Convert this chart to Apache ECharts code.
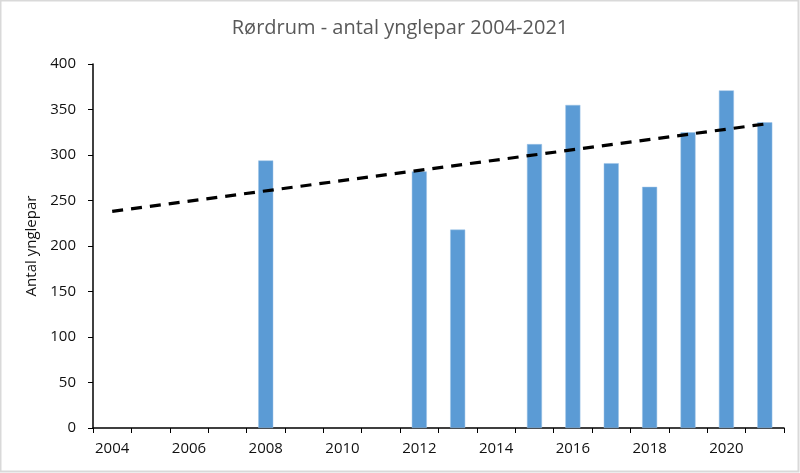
<!DOCTYPE html>
<html><head><meta charset="utf-8">
<script src="https://cdn.jsdelivr.net/npm/echarts@6/dist/echarts.min.js"></script>
<style>html,body{margin:0;padding:0;background:#fff}#c{width:800px;height:473px}</style>
</head><body><div id="c"></div>
<script>
const years = ['2004','2005','2006','2007','2008','2009','2010','2011','2012','2013','2014','2015','2016','2017','2018','2019','2020','2021'];
const pairs = [null,null,null,null,294,null,null,null,282,218,null,312,355,291,265,325,371,336];
const trendYears = ['2004','2021'];
const trendValues = [238,334];
const yTicks = [0,50,100,150,200,250,300,350,400];

const trendData = years.map(y => { const i = trendYears.indexOf(y); return i >= 0 ? trendValues[i] : null; });
const font = 'Open Sans';
const chart = echarts.init(document.getElementById('c'));
chart.setOption({
  animation: false,
  title: { text: 'Rørdrum - antal ynglepar 2004-2021', left: 'center', top: 13,
    textStyle: { fontFamily: font, fontSize: 20, fontWeight: 'normal', color: '#595959' } },
  graphic: [{ type: 'rect', shape: { x: 0.5, y: 0.5, width: 798, height: 471 },
    style: { fill: 'none', stroke: '#d9d9d9', lineWidth: 2 }, silent: true }],
  grid: { left: 93, right: 16, top: 64, bottom: 45 },
  xAxis: { type: 'category', data: years, boundaryGap: true,
    axisLine: { lineStyle: { color: '#000', width: 1.5 } },
    axisTick: { show: true, alignWithLabel: false, interval: 0, length: 5, lineStyle: { color: '#000' } },
    axisLabel: { interval: 1, color: '#111', fontFamily: font, fontSize: 15, margin: 13 } },
  yAxis: { type: 'value', min: yTicks[0], max: yTicks[yTicks.length-1], interval: 50,
    name: 'Antal ynglepar', nameLocation: 'middle', nameGap: 52, nameRotate: 90,
    nameTextStyle: { fontFamily: font, fontSize: 15, color: '#111' },
    axisLine: { show: true, lineStyle: { color: '#000', width: 1.5 } },
    axisTick: { show: true, length: 5, lineStyle: { color: '#000' } },
    splitLine: { show: false },
    axisLabel: { color: '#111', fontFamily: font, fontSize: 15, margin: 17 } },
  series: [
    { type: 'bar', data: pairs, barWidth: 15, itemStyle: { color: '#5b9bd5', borderColor: '#9dc3e6', borderWidth: 0.5 } },
    { type: 'line', data: trendData, connectNulls: true, symbol: 'none',
      lineStyle: { color: '#000', width: 3.2, type: [11, 8] }, z: 5 }
  ]
});
</script></body></html>
